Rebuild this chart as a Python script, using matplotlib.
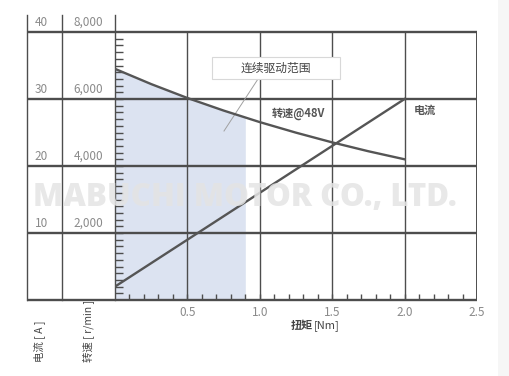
import numpy as np
import matplotlib
matplotlib.use("Agg")
import matplotlib.pyplot as plt
from matplotlib.patches import Rectangle

plt.rcParams['font.family'] = ['Noto Sans CJK SC', 'DejaVu Sans']

# ---- data ----
torque = [0.0, 0.25, 0.5, 0.75, 1.0, 1.25, 1.5, 1.75, 2.0]
speed_rpm = [6900, 6445, 6030, 5655, 5310, 4995, 4705, 4440, 4200]
current_a = [2.0, 5.5, 9.0, 12.5, 16.0, 19.5, 23.0, 26.5, 30.0]
continuous_max_torque = 0.9
x_ticks = [0.5, 1.0, 1.5, 2.0, 2.5]
x_tick_labels = ["0.5", "1.0", "1.5", "2.0", "2.5"]
current_ticks = [10, 20, 30, 40]
current_labels = ["10", "20", "30", "40"]
speed_labels = ["2,000", "4,000", "6,000", "8,000"]

W, H = 510, 376
fig = plt.figure(figsize=(W / 100, H / 100), dpi=100)
fig.patches.append(Rectangle((498 / W, 0), 1, 1, transform=fig.transFigure,
                             facecolor='#f6f6f6', edgecolor='none', zorder=0))

L, R, B, T = 115, 477, 300, 32
ax = fig.add_axes([L / W, (H - B) / H, (R - L) / W, (B - T) / H])
ax.set_xlim(0, 2.5)
ax.set_ylim(0, 40)
ax.set_facecolor('none')
for s in ax.spines.values():
    s.set_visible(False)

sp = fig.add_axes(ax.get_position(), sharex=ax)
sp.set_ylim(0, 8000)
sp.set_facecolor('none')
sp.axis('off')

dark = '#4d4d4d'
grey_txt = '#8a8a8a'

def px_to_ax_x(px):
    return (px - L) / (R - L)

def px_to_ax_y(py):
    return (B - py) / (B - T)

ytr = ax.get_yaxis_transform()
xtr = ax.get_xaxis_transform()

# shaded continuous region (drawn in ax, speed scale)
tq = np.linspace(0, continuous_max_torque, 60)
ax.fill_between(tq, 0, np.interp(tq, torque, speed_rpm), color='#dce3f1',
                lw=0, zorder=0.5, transform=sp.transData)

# horizontal lines (0..40)
for v in [0] + current_ticks:
    ax.plot([px_to_ax_x(27), 1.0], [v, v], transform=ytr, color=dark,
            lw=1.7, clip_on=False, zorder=3, solid_capstyle='butt')

# left table vertical lines + axis line
for px in [27, 62, 115]:
    ax.plot([px_to_ax_x(px)] * 2, [0, px_to_ax_y(15)], transform=ax.transAxes,
            color=dark, lw=1.0, clip_on=False, zorder=3)

# vertical grid lines
for v in x_ticks:
    ax.plot([v, v], [0, 1], transform=xtr, color=dark,
            lw=1.4 if v == 2.5 else 1.0, zorder=3)

# minor ticks
ax.set_xticks(np.arange(1, 25) / 10)
ax.set_xticklabels([])
ax.set_yticks(np.arange(1, 40))
ax.set_yticklabels([])
ax.tick_params(axis='both', direction='in', color=dark, width=1.0)
ax.tick_params(axis='x', length=4)
ax.tick_params(axis='y', length=6)

# tick labels
for v, lab in zip(x_ticks, x_tick_labels):
    ax.text(v, px_to_ax_y(313), lab, transform=xtr, ha='center', va='center',
            fontsize=8.5, color=grey_txt)
for v, la, lb in zip(current_ticks, current_labels, speed_labels):
    ax.annotate(la, (px_to_ax_x(48), v), xycoords=ytr, xytext=(0, 2.5),
                textcoords='offset points', ha='right', va='bottom',
                fontsize=8.5, color=grey_txt)
    ax.annotate(lb, (px_to_ax_x(103), v), xycoords=ytr, xytext=(0, 2.5),
                textcoords='offset points', ha='right', va='bottom',
                fontsize=8.5, color=grey_txt)

# curves
sp.plot(torque, speed_rpm, color='#555555', lw=1.7, zorder=4)
ax.plot(torque, current_a, color='#555555', lw=1.7, zorder=4)

# annotations
ax.text(px_to_ax_x(298), px_to_ax_y(113), '转速@48V', transform=ax.transAxes,
        ha='center', va='center', fontsize=8, color='#555555', fontweight='bold')
ax.text(px_to_ax_x(425), px_to_ax_y(110), '电流', transform=ax.transAxes,
        ha='center', va='center', fontsize=8, color='#555555', fontweight='bold')
ax.plot([px_to_ax_x(258), px_to_ax_x(224)], [px_to_ax_y(79), px_to_ax_y(131)],
        transform=ax.transAxes, color='#a0a0a0', lw=0.7, zorder=5)
ax.add_patch(Rectangle((px_to_ax_x(212), px_to_ax_y(79)),
                       px_to_ax_x(340) - px_to_ax_x(212),
                       px_to_ax_y(57) - px_to_ax_y(79),
                       transform=ax.transAxes, facecolor='white',
                       edgecolor='#d8d8d8', lw=0.8, zorder=6, clip_on=False))
ax.text(px_to_ax_x(276), px_to_ax_y(68), '连续驱动范围', transform=ax.transAxes,
        ha='center', va='center', fontsize=8.5, color='#444444', zorder=7)

# axis titles
fig.text(291 / W, 1 - 326 / H, '扭矩', ha='left', va='center', fontsize=8,
         fontweight='bold', color='#444444')
fig.text(314 / W, 1 - 326 / H, '[Nm]', ha='left', va='center', fontsize=8,
         color='#444444')
fig.text(40 / W, 1 - 362 / H, '电流 [ A ]', ha='center', va='bottom',
         rotation=90, fontsize=7.5, color='#444444')
fig.text(88 / W, 1 - 362 / H, '转速 [ r/min ]', ha='center', va='bottom',
         rotation=90, fontsize=7.5, color='#444444')

# watermark
fig.text(245 / W, 1 - 198 / H, 'MABUCHI MOTOR CO., LTD.', ha='center',
         va='center', fontsize=22.5, fontweight='heavy', color='#e4e4e4',
         alpha=0.85, family=['Open Sans', 'DejaVu Sans'], zorder=10)

fig.savefig('out.png', dpi=100)
